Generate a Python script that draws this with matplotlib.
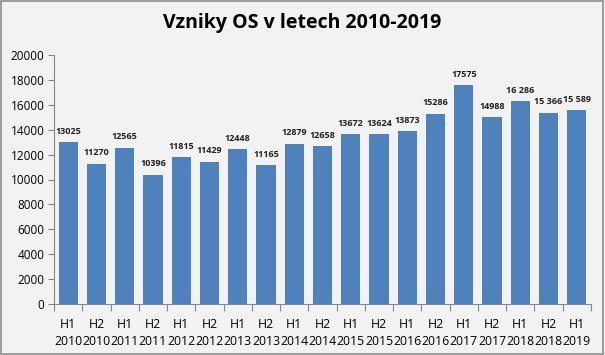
import matplotlib
matplotlib.use("Agg")
import matplotlib.pyplot as plt
from matplotlib.patches import Rectangle

plt.rcParams['font.family'] = ['Open Sans', 'DejaVu Sans']

# data
kategorie = ["H1\n2010", "H2\n2010", "H1\n2011", "H2\n2011", "H1\n2012", "H2\n2012",
             "H1\n2013", "H2\n2013", "H1\n2014", "H2\n2014", "H1\n2015", "H2\n2015",
             "H1\n2016", "H2\n2016", "H1\n2017", "H2\n2017", "H1\n2018", "H2\n2018",
             "H1\n2019"]
vzniky = [13025, 11270, 12565, 10396, 11815, 11429, 12448, 11165, 12879, 12658,
          13672, 13624, 13873, 15286, 17575, 14988, 16286, 15366, 15589]
popisky = ["13025", "11270", "12565", "10396", "11815", "11429", "12448", "11165",
           "12879", "12658", "13672", "13624", "13873", "15286", "17575", "14988",
           "16 286", "15 366", "15 589"]

bg = '#f2f2f2'
fig = plt.figure(figsize=(6.05, 3.55), dpi=100, facecolor=bg)
fig.patches.append(Rectangle((0.002, 0.003), 0.995, 0.994, transform=fig.transFigure,
                             fill=False, edgecolor='#8c8c8c', linewidth=1.2))
ax = fig.add_axes([54 / 605, 51 / 355, 537 / 605, 249 / 355], facecolor=bg)

x = range(len(vzniky))
bars = ax.bar(x, vzniky, width=0.68, color='#4f81bd')
for i, (v, t) in enumerate(zip(vzniky, popisky)):
    ax.text(i, v + 500, t, ha='center', va='bottom', fontsize=6.5, fontweight='bold',
            color='#222222')

ax.set_xlim(-0.5, len(vzniky) - 0.5)
ax.set_ylim(0, 20000)
ax.set_yticks(range(0, 20001, 2000))
ax.tick_params(axis='y', labelsize=8.5, length=4, color='#868686', pad=3)
ax.set_xticks([i - 0.5 for i in x] + [len(vzniky) - 0.5], minor=False)
ax.set_xticklabels([''] * (len(vzniky) + 1))
ax.set_xticks(list(x), minor=True)
ax.set_xticklabels(kategorie, minor=True, fontsize=8.8, linespacing=1.45)
ax.tick_params(axis='x', which='major', length=5, color='#868686')
ax.tick_params(axis='x', which='minor', length=0, pad=10)
for s in ['top', 'right']:
    ax.spines[s].set_visible(False)
for s in ['left', 'bottom']:
    ax.spines[s].set_color('#868686')

fig.text(0.5, 0.935, "Vzniky OS v letech 2010-2019", ha='center', va='center',
         fontsize=14, fontweight='bold')

fig.savefig("out.png", dpi=100, facecolor=bg)
